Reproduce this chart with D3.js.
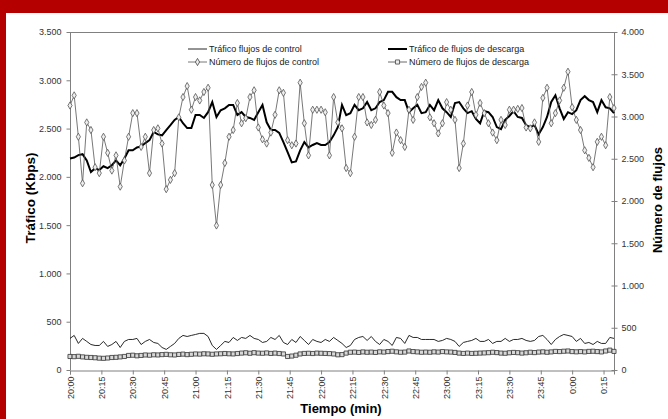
<!DOCTYPE html>
<html>
<head>
<meta charset="utf-8">
<script src="https://cdn.jsdelivr.net/npm/d3@7"></script>
<style>
body { margin: 0; background: #fff; }
svg { display: block; font-family: Arial, "Liberation Sans", sans-serif; }
</style>
</head>
<body>
<svg id="chart" width="668" height="419"></svg>
<script>
// una muestra cada 2 minutos, desde las 20:00
var startLabel = "20:00";
var stepMin = 2;

// Trafico de flujos de descarga (Kbps, eje izq.)
var traficoDescarga = [
  2190, 2200, 2225, 2235, 2170, 2050, 2090, 2070, 2110, 2090,
  2120, 2170, 2120, 2190, 2275, 2275, 2305, 2315, 2350, 2380,
  2465, 2440, 2430, 2485, 2535, 2590, 2620, 2555, 2505, 2505,
  2640, 2640, 2610, 2670, 2775, 2620, 2690, 2710, 2745, 2745,
  2640, 2670, 2620, 2610, 2590, 2670, 2745, 2565, 2485, 2485,
  2455, 2360, 2255, 2150, 2160, 2275, 2360, 2305, 2330, 2350,
  2330, 2330, 2360, 2430, 2515, 2745, 2640, 2660, 2745, 2690,
  2710, 2775, 2690, 2710, 2775, 2795, 2880, 2880, 2825, 2795,
  2795, 2670, 2710, 2745, 2660, 2670, 2745, 2690, 2795, 2710,
  2670, 2620, 2765, 2775, 2710, 2660, 2680, 2600, 2555, 2680,
  2670, 2620, 2515, 2495, 2590, 2630, 2680, 2620, 2610, 2535,
  2515, 2535, 2440, 2515, 2620, 2775, 2845, 2710, 2600, 2670,
  2650, 2690, 2795, 2835, 2795, 2775, 2670, 2795, 2720, 2710,
  2660
];

// Trafico flujos de control (Kbps, eje izq.)
var traficoControl = [
  327, 358, 275, 327, 296, 264, 254, 254, 296, 244,
  264, 296, 233, 296, 316, 316, 327, 264, 296, 316,
  285, 275, 233, 213, 244, 275, 327, 358, 347, 358,
  368, 379, 379, 347, 254, 213, 254, 296, 285, 337,
  306, 337, 327, 358, 327, 316, 285, 296, 337, 316,
  358, 285, 264, 316, 285, 347, 306, 264, 316, 296,
  285, 316, 296, 337, 306, 275, 233, 254, 316, 337,
  347, 306, 347, 296, 264, 316, 296, 254, 337, 327,
  275, 358, 337, 337, 316, 316, 316, 316, 296, 306,
  327, 316, 296, 244, 285, 296, 306, 327, 296, 296,
  316, 275, 296, 296, 327, 296, 316, 316, 327, 306,
  296, 306, 347, 358, 316, 264, 316, 347, 368, 358,
  347, 296, 327, 275, 285, 264, 296, 275, 275, 337,
  327
];

// Numero de flujos de control (eje der.)
var numControl = [
  3130, 3250, 2760, 2210, 2930, 2840, 2400, 2330, 2760, 2570,
  2360, 2540, 2170, 2480, 2760, 3040, 3040, 2640, 2760, 2330,
  2840, 2860, 2680, 2140, 2250, 2330, 2990, 3230, 3360, 3080,
  3230, 3190, 3290, 3340, 2190, 1710, 2190, 2450, 2760, 2840,
  3160, 2920, 2980, 3230, 3310, 2870, 2730, 2680, 2810, 3020,
  3310, 3280, 2720, 2660, 2680, 3400, 2920, 2540, 3080, 3080,
  3080, 3050, 2540, 3230, 2930, 2860, 2390, 2330, 2760, 3230,
  3230, 2930, 2900, 2960, 3290, 3130, 3040, 2570, 2810, 2720,
  2640, 3080, 2960, 3230, 3350, 3400, 2990, 2920, 2800, 2920,
  3170, 3080, 2960, 2390, 2680, 3130, 3290, 3020, 3160, 3040,
  2920, 2810, 2720, 2960, 2900, 3080, 3080, 3090, 3100, 2870,
  2860, 2930, 2700, 3220, 3340, 2920, 3040, 3190, 3340, 3530,
  3110, 2960, 2840, 2600, 2510, 2400, 2700, 2760, 2660, 3230,
  3100
];

// Numero de flujos de descarga (eje der.)
var numDescarga = [
  160, 158, 162, 155, 150, 148,
  145, 140, 138, 142, 148,
  150, 155, 160, 172, 175,
  168, 172, 178, 175, 180,
  178, 182, 185, 180, 178,
  184, 188, 182, 186, 190,
  188, 192, 190, 186, 190,
  192, 195, 192, 190, 195,
  200, 204, 198, 205, 200,
  198, 202, 196, 200, 195,
  190, 160, 165, 175, 190,
  196, 198, 195, 200, 198,
  196, 194, 190, 180, 182,
  200, 210, 212, 208, 214,
  210, 212, 208, 215, 212,
  218, 222, 215, 210, 212,
  225, 218, 214, 210, 212,
  210, 215, 212, 218, 214,
  212, 208, 200, 196, 200,
  196, 198, 200, 202, 205,
  210, 206, 200, 198, 204,
  208, 205, 200, 204, 210,
  206, 212, 215, 210, 214,
  220, 218, 222, 225, 218,
  215, 218, 214, 220, 222,
  218, 214, 225, 235, 220
];

var xTickLabels = ["20:00", "20:15", "20:30", "20:45", "21:00", "21:15", "21:30", "21:45", "22:00",
  "22:15", "22:30", "22:45", "23:00", "23:15", "23:30", "23:45", "0:00", "0:15"];
var yLeftTicks = [0, 500, 1000, 1500, 2000, 2500, 3000, 3500];
var yRightTicks = [0, 500, 1000, 1500, 2000, 2500, 3000, 3500, 4000];
var legendLabels = ["Tráfico flujos de control", "Número de flujos de control",
  "Tráfico de flujos de descarga", "Número de flujos de descarga"];

// minutos transcurridos desde startLabel
function toMin(lbl) {
    var p = lbl.split(":"), s = startLabel.split(":");
    var m = (+p[0]) * 60 + (+p[1]) - ((+s[0]) * 60 + (+s[1]));
    if (m < 0) m += 24 * 60;
    return m;
}
var minutes = traficoDescarga.map(function (d, i) { return i * stepMin; });
var tickMinutes = xTickLabels.map(toMin);

var W = 668, H = 419;
var pLeft = 70, pRight = 614, pTop = 32, pBottom = 370;
var svg = d3.select("#chart");

// marco rojo
svg.append("rect").attr("width", W).attr("height", H).attr("fill", "#fff");
svg.append("rect").attr("width", W).attr("height", 13).attr("fill", "#b50000");
svg.append("rect").attr("width", 6).attr("height", H).attr("fill", "#b50000");

var x = d3.scaleLinear().domain([0, 260]).range([pLeft, pRight]);
var yL = d3.scaleLinear().domain([0, 3500]).range([pBottom, pTop]);
var yR = d3.scaleLinear().domain([0, 4000]).range([pBottom, pTop]);

var es = d3.formatLocale({decimal: ",", thousands: ".", grouping: [3], currency: ["", " €"]});
var fmt = es.format(",d");

// borde superior del area
svg.append("line")
    .attr("x1", pLeft).attr("x2", pRight)
    .attr("y1", pTop + 0.5).attr("y2", pTop + 0.5)
    .attr("stroke", "#808080");

var gL = svg.append("g")
    .attr("transform", "translate(" + (pLeft + 0.5) + ",0)")
    .call(d3.axisLeft(yL).tickValues(yLeftTicks).tickFormat(fmt).tickSize(4).tickPadding(5));
var gR = svg.append("g")
    .attr("transform", "translate(" + (pRight + 0.5) + ",0)")
    .call(d3.axisRight(yR).tickValues(yRightTicks).tickFormat(fmt).tickSize(3).tickPadding(4));
gR.selectAll(".tick line").attr("x1", -3);
var gX = svg.append("g")
    .attr("transform", "translate(0," + (pBottom + 0.5) + ")")
    .call(d3.axisBottom(x).tickValues(tickMinutes).tickFormat(function (d, i) { return xTickLabels[i]; }).tickSize(4));
gX.selectAll(".tick text")
    .attr("transform", "rotate(-90)")
    .attr("text-anchor", "end")
    .attr("x", -6).attr("y", 0).attr("dy", "0.35em");

[gL, gR, gX].forEach(function (g) {
    g.selectAll(".domain").attr("stroke", "#808080");
    g.selectAll(".tick line").attr("stroke", "#808080");
    g.selectAll(".tick text").attr("fill", "#333").style("font-size", "9px").style("font-family", "Arial, 'Liberation Sans', sans-serif");
});
gR.select(".domain").attr("d", "M0," + pTop + "V" + pBottom);
gL.select(".domain").attr("d", "M0," + pTop + "V" + pBottom);

// titulos
svg.append("text")
    .attr("transform", "translate(35,198) rotate(-90)")
    .attr("text-anchor", "middle")
    .style("font-size", "13.5px").style("font-weight", "bold")
    .text("Tráfico (Kbps)");
svg.append("text")
    .attr("transform", "translate(662,200) rotate(-90)")
    .attr("text-anchor", "middle")
    .style("font-size", "13px").style("font-weight", "bold")
    .text("Número de flujos");
svg.append("text")
    .attr("x", 341).attr("y", 413)
    .attr("text-anchor", "middle")
    .style("font-size", "13px").style("font-weight", "bold")
    .text("Tiempo (min)");

var lineL = d3.line().x(function (d, i) { return x(minutes[i]); }).y(function (d) { return yL(d); });
var lineR = d3.line().x(function (d, i) { return x(minutes[i]); }).y(function (d) { return yR(d); });

var plot = svg.append("g");
plot.append("path").datum(traficoControl)
    .attr("d", lineL).attr("fill", "none").attr("stroke", "#111").attr("stroke-width", 0.9);
plot.append("path").datum(traficoDescarga)
    .attr("d", lineL).attr("fill", "none").attr("stroke", "#000").attr("stroke-width", 2);

var diamond = d3.symbol().type(d3.symbolDiamond).size(15);
var square = d3.symbol().type(d3.symbolSquare).size(17);

plot.append("path").datum(numControl)
    .attr("d", lineR).attr("fill", "none").attr("stroke", "#555").attr("stroke-width", 0.8);
plot.selectAll(".dia").data(numControl).enter().append("path")
    .attr("class", "dia")
    .attr("d", diamond)
    .attr("transform", function (d, i) { return "translate(" + x(minutes[i]) + "," + yR(d) + ")"; })
    .attr("fill", "#eee").attr("stroke", "#555").attr("stroke-width", 0.8);

plot.append("path").datum(numDescarga)
    .attr("d", lineR).attr("fill", "none").attr("stroke", "#444").attr("stroke-width", 0.8);
plot.selectAll(".sq").data(numDescarga).enter().append("path")
    .attr("class", "sq")
    .attr("d", square)
    .attr("transform", function (d, i) { return "translate(" + x(minutes[i]) + "," + yR(d) + ")"; })
    .attr("fill", "#d8d8d8").attr("stroke", "#333").attr("stroke-width", 0.8);

// leyenda
var legPos = [[188, 49], [188, 62], [388, 49], [388, 62]];
var legStyle = [
    {w: 0.9, c: "#111", m: null},
    {w: 0.8, c: "#555", m: diamond},
    {w: 2, c: "#000", m: null},
    {w: 0.8, c: "#444", m: square}
];
var leg = svg.append("g").selectAll("g").data(legendLabels).enter().append("g")
    .attr("transform", function (d, i) { return "translate(" + legPos[i][0] + "," + legPos[i][1] + ")"; });
leg.append("line")
    .attr("x1", 0).attr("x2", 19)
    .attr("stroke", function (d, i) { return legStyle[i].c; })
    .attr("stroke-width", function (d, i) { return legStyle[i].w; });
leg.filter(function (d, i) { return legStyle[i].m; }).append("path")
    .attr("d", function (d) { return legStyle[legendLabels.indexOf(d)].m(); })
    .attr("transform", "translate(9.5,0)")
    .attr("fill", "#eee").attr("stroke", "#444").attr("stroke-width", 0.8);
leg.append("text")
    .attr("x", 21).attr("dy", "0.35em")
    .attr("fill", "#222")
    .style("font-size", "9px")
    .text(function (d) { return d; });
</script>
</body>
</html>
